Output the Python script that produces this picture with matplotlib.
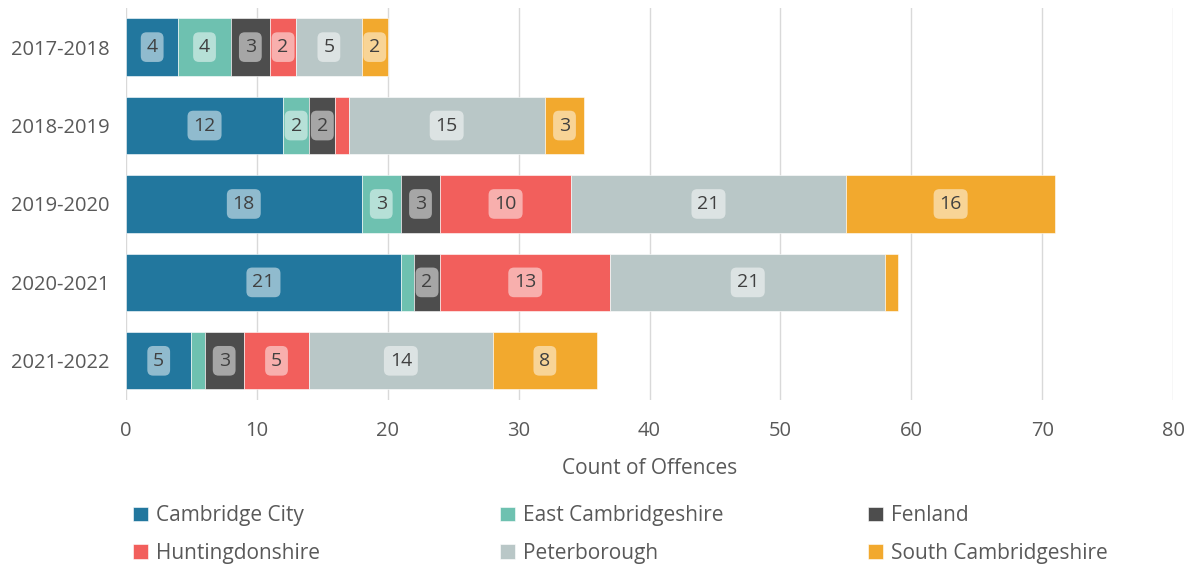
import matplotlib.pyplot as plt
import numpy as np

years = ["2017-2018", "2018-2019", "2019-2020", "2020-2021", "2021-2022"]
districts = ["Cambridge City", "East Cambridgeshire", "Fenland",
             "Huntingdonshire", "Peterborough", "South Cambridgeshire"]
cambridge = [4, 12, 18, 21, 5]
east_cambs = [4, 2, 3, 1, 1]
fenland = [3, 2, 3, 2, 3]
hunts = [2, 1, 10, 13, 5]
peterborough = [5, 15, 21, 21, 14]
south_cambs = [2, 3, 16, 1, 8]
colors = ["#22779E", "#6EC1B0", "#4D4D4D", "#F25F5C", "#B9C7C7", "#F2A92E"]

series = [cambridge, east_cambs, fenland, hunts, peterborough, south_cambs]

plt.rcParams['font.family'] = ['Open Sans', 'DejaVu Sans']
txt = "#595959"

fig = plt.figure(figsize=(11.92, 5.65), dpi=100)
ax = fig.add_axes([0.1057, 0.292, 0.8785, 0.694])

y = np.arange(len(years))
left = np.zeros(len(years))
for name, vals, c in zip(districts, series, colors):
    vals = np.array(vals, dtype=float)
    ax.barh(y, vals, left=left, height=0.73, color=c, label=name,
            edgecolor="white", linewidth=0.4, zorder=3)
    for yi, (l, v) in enumerate(zip(left, vals)):
        if v >= 2:
            ax.text(l + v / 2, yi, f"{int(v)}", ha="center", va="center",
                    fontsize=14, color="#404040", zorder=4,
                    bbox=dict(boxstyle="round,pad=0.3,rounding_size=0.3",
                              fc="white", ec="none", alpha=0.5))
    left += vals

ax.set_xlim(0, 80)
ax.set_xticks(np.arange(0, 81, 10))
ax.set_ylim(len(years) - 0.5, -0.5)
ax.set_yticks(y)
ax.set_yticklabels(years)
ax.grid(axis="x", color="#D9D9D9", linewidth=1, zorder=0)
for s in ax.spines.values():
    s.set_visible(False)
ax.tick_params(axis="both", length=0, labelsize=14.5, colors=txt)
ax.tick_params(axis="x", pad=15)
ax.tick_params(axis="y", pad=12)
ax.set_xlabel("Count of Offences", fontsize=15, color=txt, labelpad=12)

# legend: 3 evenly spaced columns, two rows each
handles, labels = ax.get_legend_handles_labels()
col_x = [133 / 1192, 500 / 1192, 868 / 1192]
for k, x0 in enumerate(col_x):
    idx = [k, k + 3]
    lg = fig.legend([handles[i] for i in idx], [labels[i] for i in idx],
                    loc="upper left", bbox_to_anchor=(x0, 0.106),
                    frameon=False, fontsize=15, handlelength=0.7,
                    handleheight=0.7, handletextpad=0.4, labelspacing=0.8,
                    borderpad=0, borderaxespad=0, labelcolor=txt)

fig.savefig("out.png", dpi=100)
